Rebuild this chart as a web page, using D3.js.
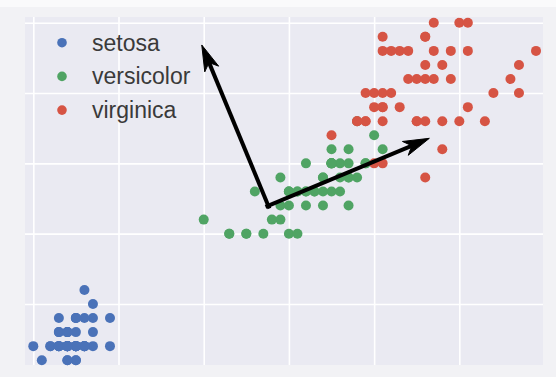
<!DOCTYPE html>
<html>
<head>
<meta charset="utf-8">
<script src="https://cdn.jsdelivr.net/npm/d3@7"></script>
<style>
  html, body { margin: 0; padding: 0; background: #f2f2f5; }
  svg { display: block; }
</style>
</head>
<body>
<svg id="chart" width="556" height="377"></svg>
<script>
// ---- data (iris: petal length vs petal width) ----
const species = ["setosa", "versicolor", "virginica"];
const speciesColors = ["#4a72b8", "#50a464", "#d65444"];

const setosaLength = [1.4,1.4,1.3,1.5,1.4,1.7,1.4,1.5,1.4,1.5,1.5,1.6,1.4,1.1,1.2,1.5,1.3,1.4,1.7,1.5,1.7,1.5,1.0,1.7,1.9,1.6,1.6,1.5,1.4,1.6,1.6,1.5,1.5,1.4,1.5,1.2,1.3,1.4,1.3,1.5,1.3,1.3,1.3,1.6,1.9,1.4,1.6,1.4,1.5,1.4];
const setosaWidth  = [0.2,0.2,0.2,0.2,0.2,0.4,0.3,0.2,0.2,0.1,0.2,0.2,0.1,0.1,0.2,0.4,0.4,0.3,0.3,0.3,0.2,0.4,0.2,0.5,0.2,0.2,0.4,0.2,0.2,0.2,0.2,0.4,0.1,0.2,0.2,0.2,0.2,0.1,0.2,0.2,0.3,0.3,0.2,0.6,0.4,0.3,0.2,0.2,0.2,0.2];

const versicolorLength = [4.7,4.5,4.9,4.0,4.6,4.5,4.7,3.3,4.6,3.9,3.5,4.2,4.0,4.7,3.6,4.4,4.5,4.1,4.5,3.9,4.8,4.0,4.9,4.7,4.3,4.4,4.8,5.0,4.5,3.5,3.8,3.7,3.9,5.1,4.5,4.5,4.7,4.4,4.1,4.0,4.4,4.6,4.0,3.3,4.2,4.2,4.2,4.3,3.0,4.1];
const versicolorWidth  = [1.4,1.5,1.5,1.3,1.5,1.3,1.6,1.0,1.3,1.4,1.0,1.5,1.0,1.4,1.3,1.4,1.5,1.0,1.5,1.1,1.8,1.3,1.5,1.2,1.3,1.4,1.4,1.7,1.5,1.0,1.1,1.0,1.2,1.6,1.5,1.6,1.5,1.3,1.3,1.3,1.2,1.4,1.2,1.0,1.3,1.2,1.3,1.3,1.1,1.3];

const virginicaLength = [6.0,5.1,5.9,5.6,5.8,6.6,4.5,6.3,5.8,6.1,5.1,5.3,5.5,5.0,5.1,5.3,5.5,6.7,6.9,5.0,5.7,4.9,6.7,4.9,5.7,6.0,4.8,4.9,5.6,5.8,6.1,6.4,5.6,5.1,5.6,6.1,5.6,5.5,4.8,5.4,5.6,5.1,5.1,5.9,5.7,5.2,5.0,5.2,5.4,5.1];
const virginicaWidth  = [2.5,1.9,2.1,1.8,2.2,2.1,1.7,1.8,1.8,2.5,2.0,1.9,2.1,2.0,2.4,2.3,1.8,2.2,2.3,1.5,2.3,2.0,2.0,1.8,2.1,1.8,1.8,1.8,2.1,1.6,1.9,2.0,2.2,1.5,1.4,2.3,2.4,1.8,1.8,2.1,2.4,2.3,1.9,2.3,2.5,2.3,1.9,2.0,2.3,1.8];

// principal axes drawn as arrows (origin = mean, tips)
const arrowOrigin = [3.758, 1.199];
const arrowTipX = [2.977, 5.648];
const arrowTipY = [2.342, 1.678];

const xTicks = [1, 2, 3, 4, 5, 6];
const yTicks = [0.5, 1.0, 1.5, 2.0, 2.5];

// ---- layout ----
const W = 556, H = 377;
const plot = { left: 25, top: 17, right: 543, bottom: 365 };

const svg = d3.select("#chart");
svg.append("rect").attr("width", W).attr("height", H).attr("fill", "#f2f2f5");
svg.append("rect").attr("width", W).attr("height", 7).attr("fill", "#fafafb");

const x = d3.scaleLinear().domain([0.9026, 6.982]).range([plot.left, plot.right]);
const y = d3.scaleLinear().domain([0.066, 2.541]).range([plot.bottom, plot.top]);

svg.append("rect")
  .attr("x", plot.left).attr("y", plot.top)
  .attr("width", plot.right - plot.left).attr("height", plot.bottom - plot.top)
  .attr("fill", "#eaeaf2");

// gridlines via axes
const gx = svg.append("g")
  .attr("transform", `translate(0,${plot.bottom})`)
  .call(d3.axisBottom(x).tickValues(xTicks).tickSize(-(plot.bottom - plot.top)).tickFormat(""));
const gy = svg.append("g")
  .attr("transform", `translate(${plot.left},0)`)
  .call(d3.axisLeft(y).tickValues(yTicks).tickSize(-(plot.right - plot.left)).tickFormat(""));
[gx, gy].forEach(g => {
  g.select(".domain").remove();
  g.selectAll(".tick line").attr("stroke", "#ffffff").attr("stroke-width", 1.6);
});

// points
const groups = [
  { L: setosaLength, Wd: setosaWidth },
  { L: versicolorLength, Wd: versicolorWidth },
  { L: virginicaLength, Wd: virginicaWidth }
];
groups.forEach((g, i) => {
  svg.append("g").selectAll("circle")
    .data(g.L.map((l, j) => [l, g.Wd[j]]))
    .join("circle")
    .attr("cx", d => x(d[0]))
    .attr("cy", d => y(d[1]))
    .attr("r", 5)
    .attr("fill", speciesColors[i]);
});

// arrows
const headLen = 22, headHalf = 7.5;
const ox = x(arrowOrigin[0]), oy = y(arrowOrigin[1]);
arrowTipX.forEach((tx0, i) => {
  const tx = x(tx0), ty = y(arrowTipY[i]);
  const dx = tx - ox, dy = ty - oy;
  const len = Math.hypot(dx, dy);
  const ux = dx / len, uy = dy / len;
  const bx = tx - ux * headLen, by = ty - uy * headLen;
  const nx = -uy, ny = ux;
  svg.append("line")
    .attr("x1", ox - ux * 3).attr("y1", oy - uy * 3)
    .attr("x2", tx - ux * (headLen - 4)).attr("y2", ty - uy * (headLen - 4))
    .attr("stroke", "#000").attr("stroke-width", 4);
  const back = 4;
  svg.append("path")
    .attr("d", `M${tx},${ty} L${bx + nx * headHalf - ux * back},${by + ny * headHalf - uy * back} L${bx + ux * 3},${by + uy * 3} L${bx - nx * headHalf - ux * back},${by - ny * headHalf - uy * back} Z`)
    .attr("fill", "#000").attr("stroke", "#000").attr("stroke-width", 1).attr("stroke-linejoin", "miter");
});

// legend
const legendX = 62, legendY0 = 42.7, legendStep = 33.7;
const lg = svg.append("g");
species.forEach((s, i) => {
  lg.append("circle")
    .attr("cx", legendX).attr("cy", legendY0 + i * legendStep)
    .attr("r", 4.8).attr("fill", speciesColors[i]);
  lg.append("text")
    .attr("x", 92).attr("y", legendY0 + i * legendStep)
    .attr("dominant-baseline", "central")
    .attr("font-family", "'Liberation Sans', Arial, sans-serif")
    .attr("font-size", 23)
    .attr("fill", "#3a3a3a")
    .text(s);
});
</script>
</body>
</html>
